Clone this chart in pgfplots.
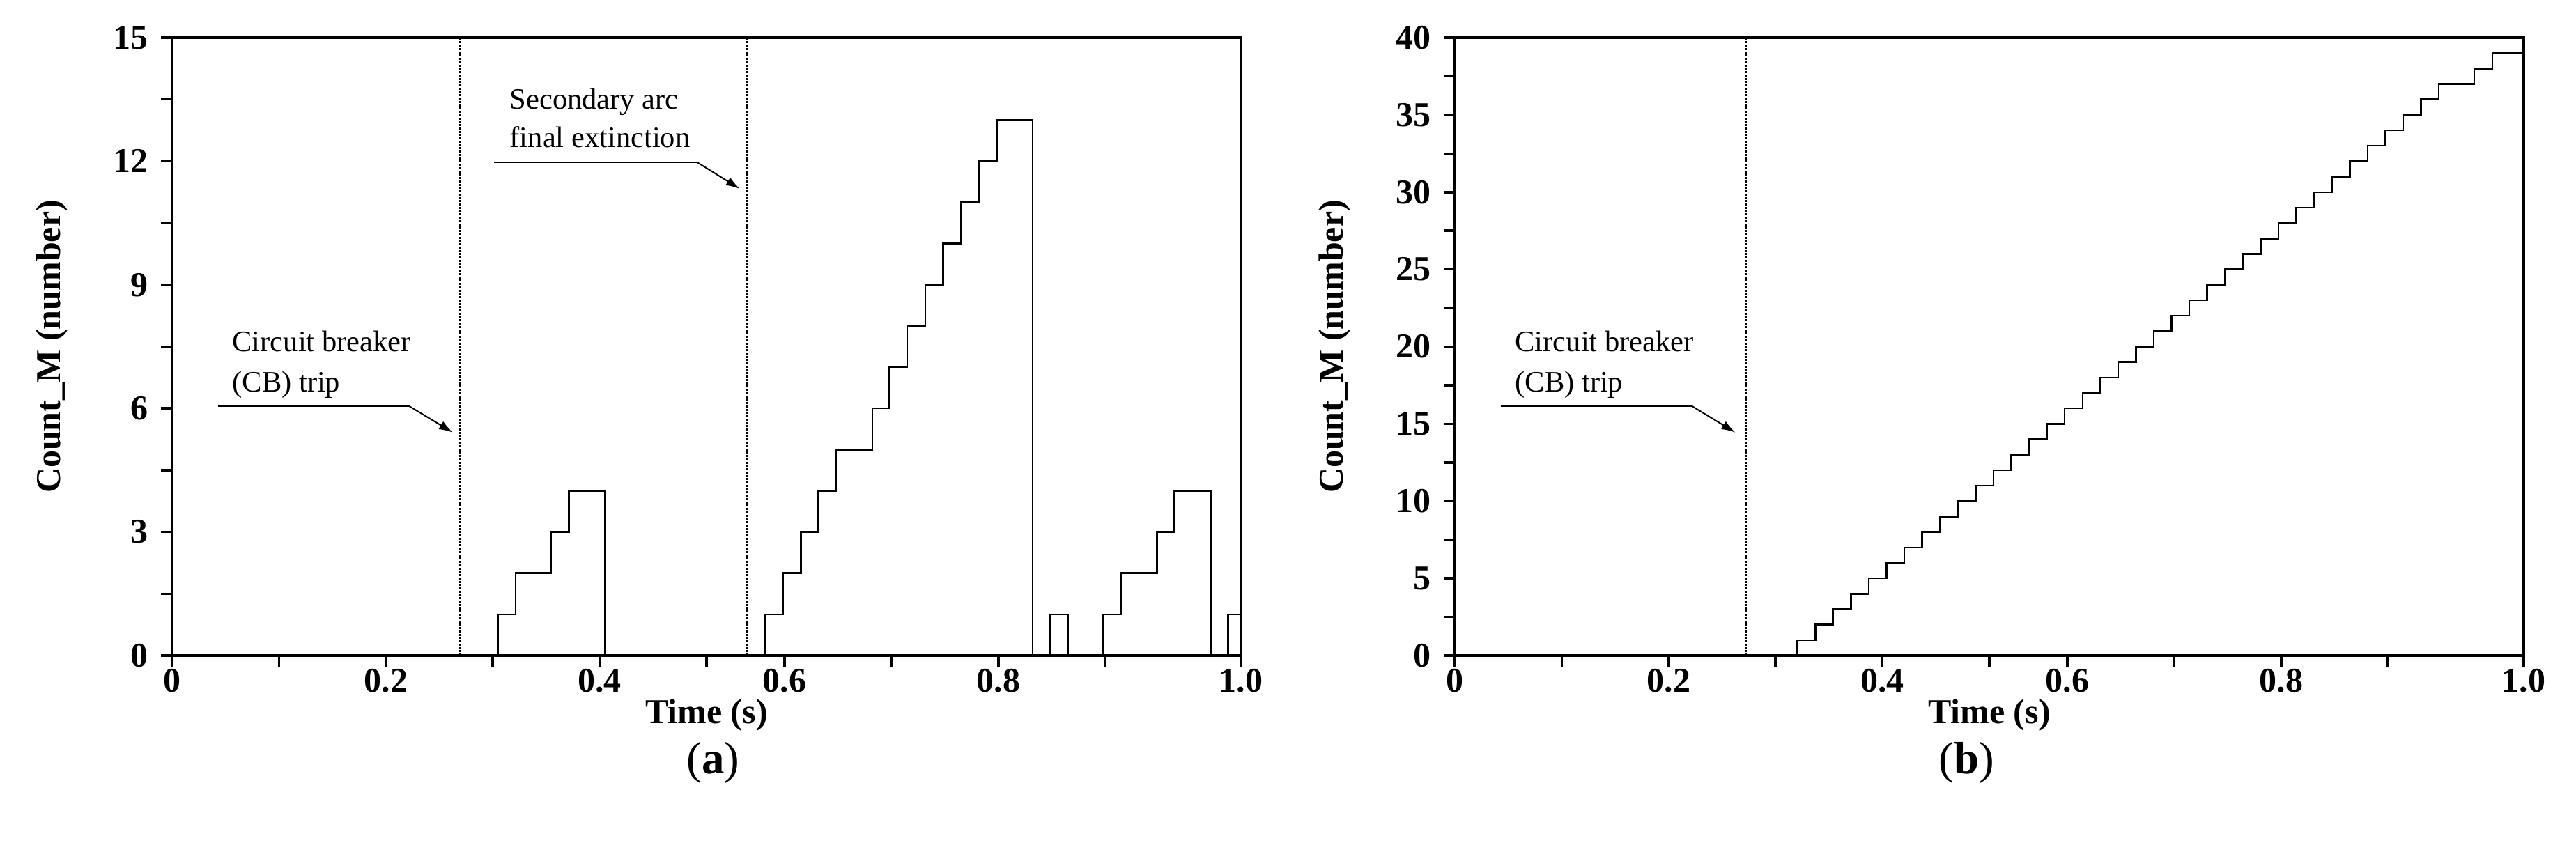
\documentclass[border=0pt]{standalone}
\usepackage{fontspec}
\setmainfont{Liberation Serif}
\usepackage{pgfplots}
\pgfplotsset{compat=1.18}
\usetikzlibrary{arrows.meta}

% the reference places the 0.6-0.9 ticks about 0.027 left of where a linear axis would
\pgfplotsset{
  panel/.style={
    width=306.8pt, height=177.4pt, scale only axis,
    anchor=south west,
    xmin=0, xmax=1,
    xtick={0,0.2,0.4,0.573,0.773,1},
    xticklabels={0,0.2,0.4,0.6,0.8,1.0},
    minor xtick={0.1,0.3,0.5,0.673,0.873},
    minor y tick num=1,
    tick align=outside, xtick pos=bottom, ytick pos=left,
    major tick length=3.2pt, minor tick length=3.2pt,
    tick style={line width=0.7pt, black},
    line width=0.7pt,
    tick label style={font=\fontsize{10}{12}\selectfont\bfseries},
    xticklabel style={yshift=3pt},
    /pgf/number format/assume math mode=true,
    xlabel={Time (s)}, ylabel={Count\_M (number)},
    every axis x label/.style={at={([yshift=-17pt]axis description cs:0.5,0)},
      anchor=center, font=\fontsize{10}{12}\selectfont\bfseries},
    every axis y label/.style={at={([xshift=-34.5pt]axis description cs:0,0.5)},
      anchor=center, rotate=90, font=\fontsize{10}{12}\selectfont\bfseries},
  },
  steps/.style={const plot, black, line width=0.5pt, mark=none},
  marker line/.style={black, line width=0.6pt, dash pattern=on 0.6pt off 0.35pt},
}
\tikzset{
  annot/.style={anchor=base west, inner sep=0pt, font=\fontsize{8.5}{10}\selectfont},
  lead/.style={line width=0.4pt},
  pointer/.style={line width=0.4pt, -{Latex[length=4pt,width=2.6pt]}},
}

\begin{document}
\begin{tikzpicture}
\useasboundingbox (0,0) rectangle (739.4pt,244.4pt);

% (a)
\begin{axis}[panel, at={(49.4pt,56.2pt)}, ymin=0, ymax=15, ytick={0,3,...,15}]
\addplot[steps] coordinates {
  (0,0) (0.3046,1) (0.3214,2) (0.3546,3) (0.3714,4) (0.4053,0)
  (0.5546,1) (0.5714,2) (0.5882,3) (0.6045,4) (0.6213,5) (0.6550,6)
  (0.6708,7) (0.6877,8) (0.7048,9) (0.7214,10) (0.7379,11) (0.7546,12)
  (0.7715,13) (0.8052,0) (0.8210,1) (0.8383,0) (0.8711,1) (0.8878,2)
  (0.9216,3) (0.9379,4) (0.9718,0) (0.9880,1) (1.0,1)
};
\addplot[marker line] coordinates {(0.2694,0) (0.2694,15)};
\addplot[marker line] coordinates {(0.5383,0) (0.5383,15)};

\draw[lead] (rel axis cs:0.0432,0.404) -- (rel axis cs:0.2215,0.404);
\draw[pointer] (rel axis cs:0.2215,0.404) -- (rel axis cs:0.2627,0.361);
\node[annot] at (rel axis cs:0.0553,0.492) {Circuit breaker};
\node[annot] at (rel axis cs:0.0553,0.427) {(CB) trip};

\draw[lead] (rel axis cs:0.3014,0.7986) -- (rel axis cs:0.4909,0.7986);
\draw[pointer] (rel axis cs:0.4909,0.7986) -- (rel axis cs:0.5311,0.7555);
\node[annot] at (rel axis cs:0.3149,0.8843) {Secondary arc};
\node[annot] at (rel axis cs:0.3149,0.8230) {final extinction};
\end{axis}

% (b)
\begin{axis}[panel, at={(417.6pt,56.2pt)}, ymin=0, ymax=40, ytick={0,5,...,40}]
\addplot[steps] coordinates {
  (0,0) (0.3205,1) (0.3372,2) (0.3538,3) (0.3705,4) (0.3872,5)
  (0.4038,6) (0.4205,7) (0.4372,8) (0.4538,9) (0.4705,10) (0.4872,11)
  (0.5038,12) (0.5205,13) (0.5372,14) (0.5538,15) (0.5705,16) (0.5872,17)
  (0.6038,18) (0.6205,19) (0.6372,20) (0.6538,21) (0.6705,22) (0.6872,23)
  (0.7038,24) (0.7205,25) (0.7372,26) (0.7538,27) (0.7705,28) (0.7872,29)
  (0.8038,30) (0.8205,31) (0.8372,32) (0.8538,33) (0.8705,34) (0.8872,35)
  (0.9038,36) (0.9205,37) (0.9538,38) (0.9705,39) (1.0,39)
};
\addplot[marker line] coordinates {(0.2722,0) (0.2722,40)};

\draw[lead] (rel axis cs:0.0430,0.404) -- (rel axis cs:0.2215,0.404);
\draw[pointer] (rel axis cs:0.2215,0.404) -- (rel axis cs:0.2625,0.361);
\node[annot] at (rel axis cs:0.0553,0.492) {Circuit breaker};
\node[annot] at (rel axis cs:0.0553,0.427) {(CB) trip};
\end{axis}

\node[font=\fontsize{13}{15}\selectfont] at (204.7pt,25.5pt) {(\textbf{a})};
\node[font=\fontsize{13}{15}\selectfont] at (564.5pt,25.5pt) {(\textbf{b})};
\end{tikzpicture}
\end{document}
